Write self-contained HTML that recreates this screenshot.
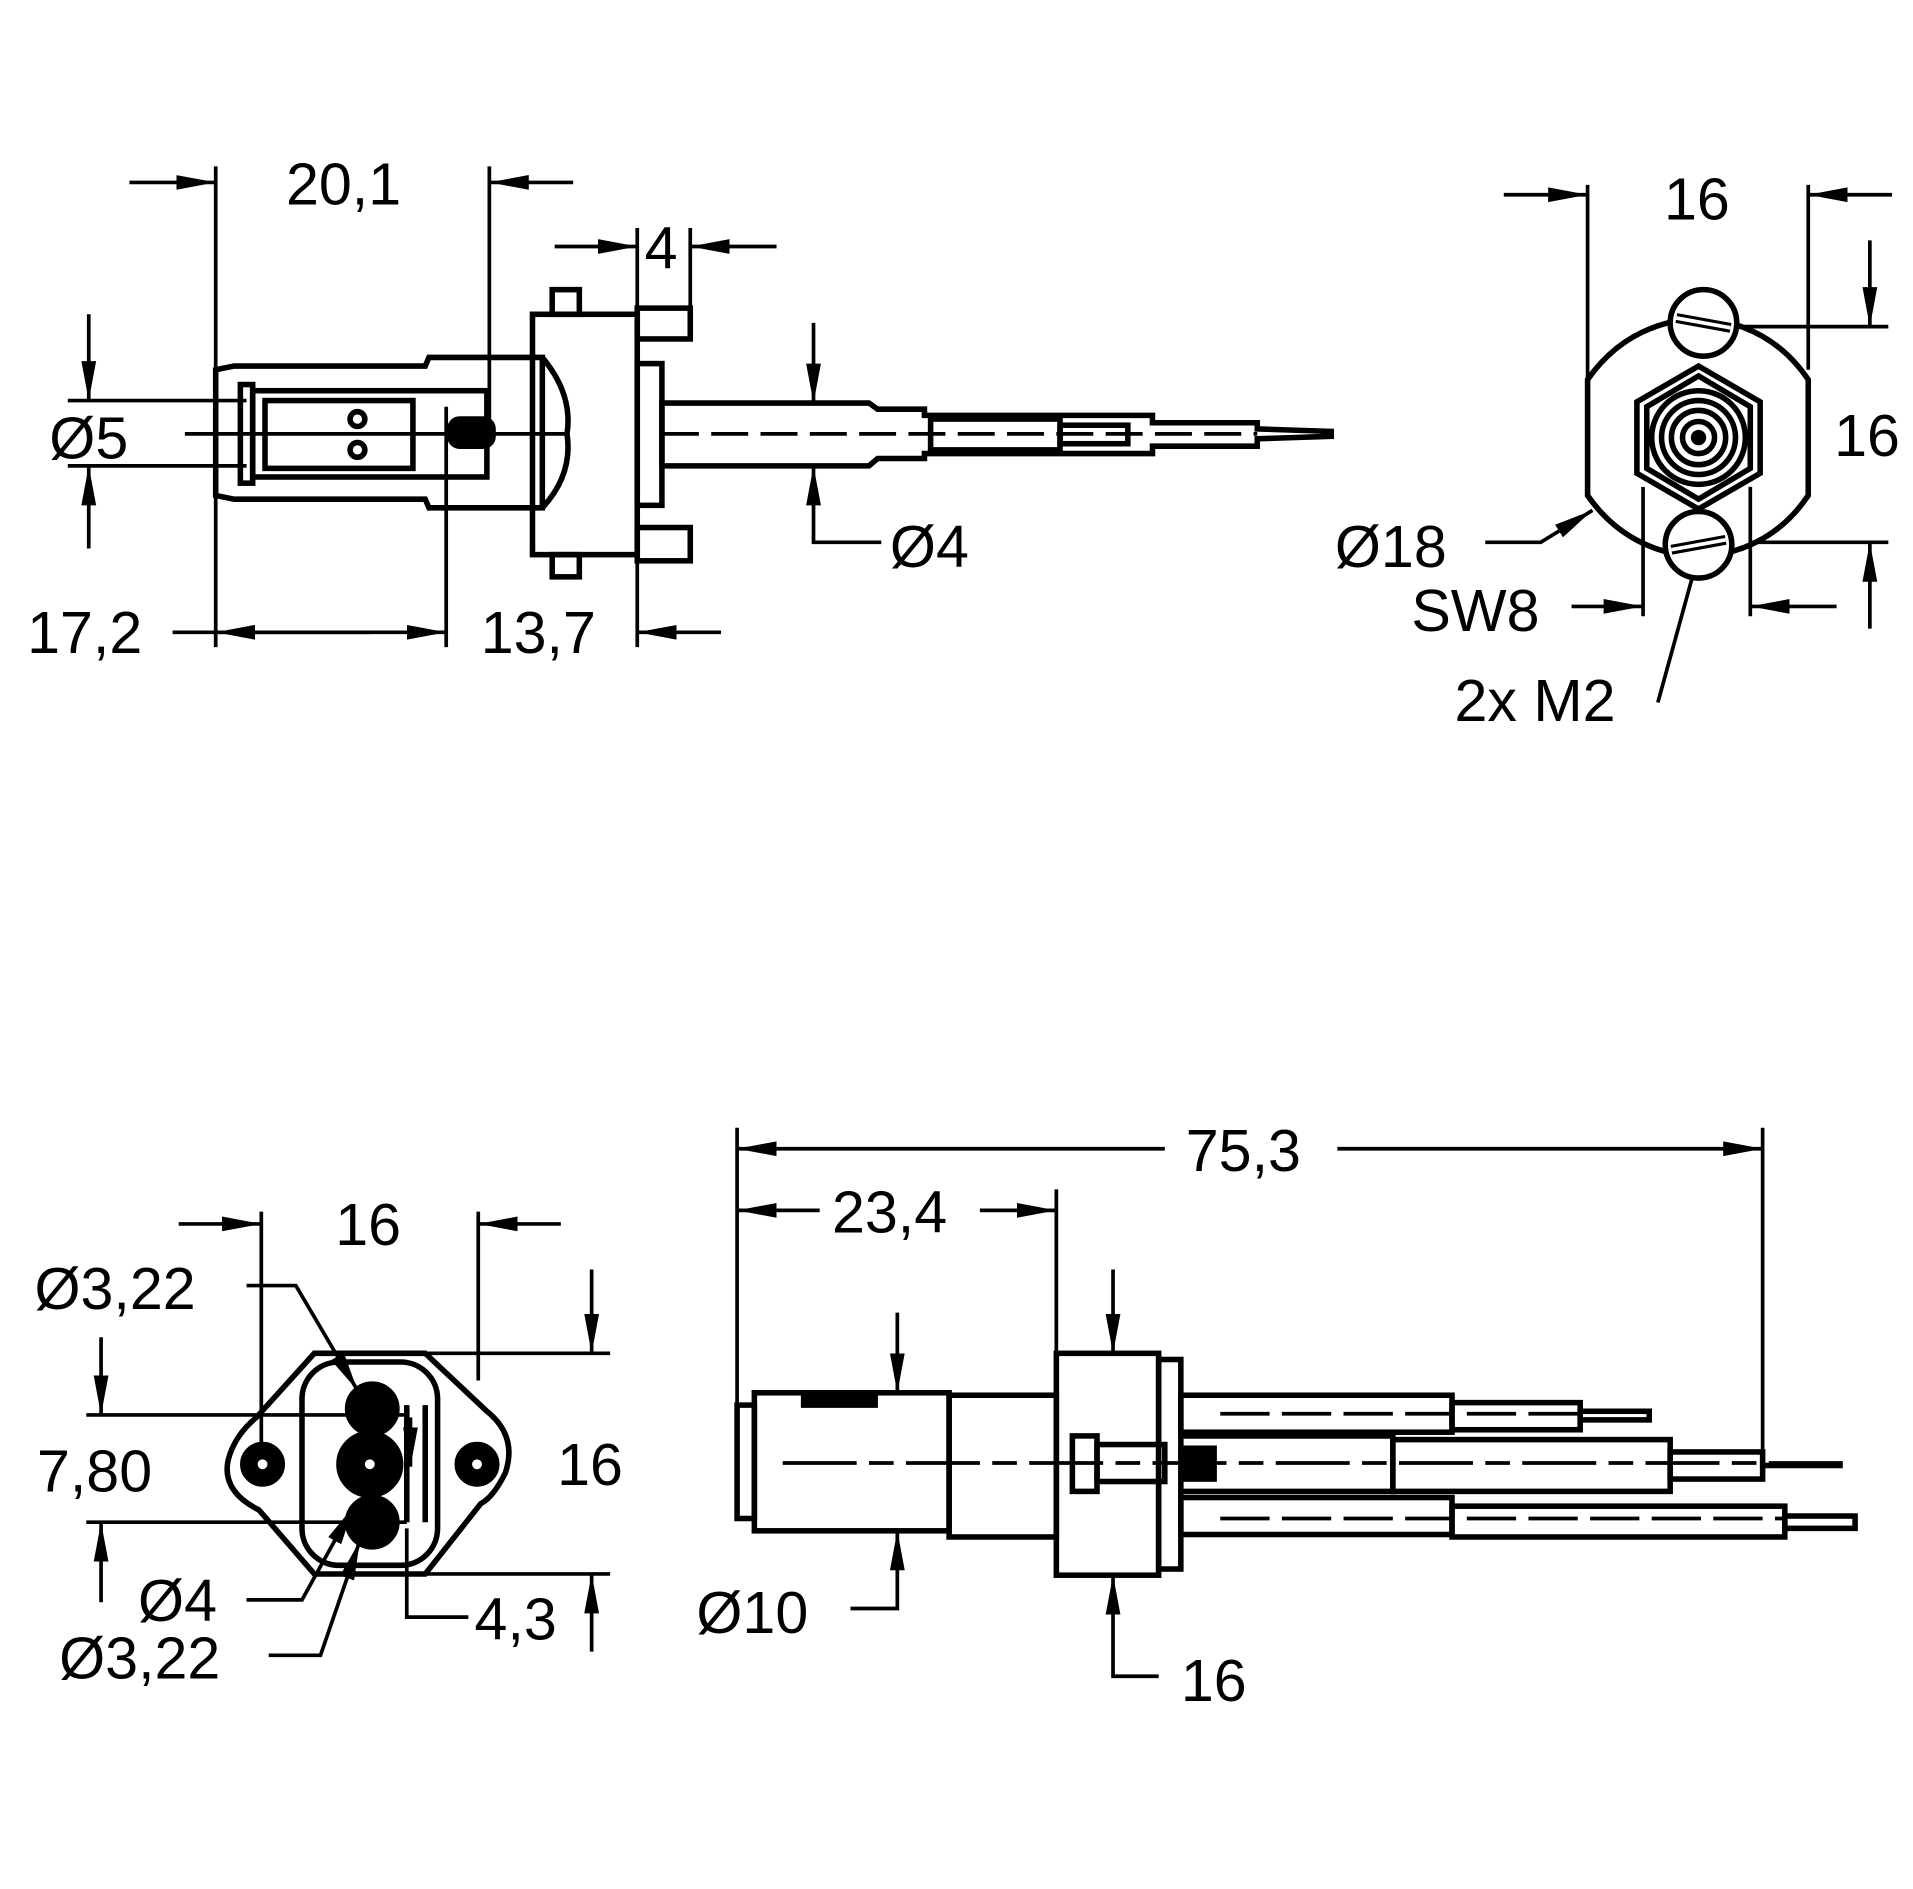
<!DOCTYPE html>
<html><head><meta charset="utf-8"><style>
html,body{margin:0;padding:0;background:#fff;width:1913px;height:1889px;overflow:hidden}
svg{display:block}
text{font-family:"Liberation Sans",sans-serif;font-size:48px;fill:#000}
</style></head><body>
<svg width="1913" height="1889" viewBox="0 0 1552 1532.6" preserveAspectRatio="none" xmlns="http://www.w3.org/2000/svg">
<defs>
<marker id="a" markerUnits="userSpaceOnUse" markerWidth="34" markerHeight="14" refX="32" refY="7" orient="auto"><path d="M0,1 L32,7 L0,13 Z" fill="#000"/></marker>
</defs>
<g stroke="#000" stroke-width="3" fill="none">
<line x1="175" y1="135" x2="175" y2="525"/>
<line x1="397" y1="135" x2="397" y2="345"/>
<line x1="105" y1="148" x2="175" y2="148" marker-end="url(#a)"/>
<line x1="465" y1="148" x2="397" y2="148" marker-end="url(#a)"/>
<line x1="517" y1="185" x2="517" y2="250"/>
<line x1="560" y1="185" x2="560" y2="250"/>
<line x1="450" y1="200" x2="517" y2="200" marker-end="url(#a)"/>
<line x1="630" y1="200" x2="560" y2="200" marker-end="url(#a)"/>
<line x1="55" y1="325" x2="200" y2="325"/>
<line x1="55" y1="378" x2="200" y2="378"/>
<line x1="72" y1="255" x2="72" y2="325" marker-end="url(#a)"/>
<line x1="72" y1="445" x2="72" y2="378" marker-end="url(#a)"/>
<line x1="362" y1="330" x2="362" y2="525"/>
<line x1="517" y1="430" x2="517" y2="525"/>
<line x1="140" y1="513" x2="362" y2="513" marker-end="url(#a)"/>
<line x1="300" y1="513" x2="175" y2="513" marker-end="url(#a)"/>
<line x1="585" y1="513" x2="517" y2="513" marker-end="url(#a)"/>
<line x1="660" y1="262" x2="660" y2="327" marker-end="url(#a)"/>
<polyline points="715,440 660,440 660,378" marker-end="url(#a)"/>
</g>
<g stroke="#000" stroke-width="4.5" fill="none">
<path d="M175,300 L190,297 L345,297 L348,290 L440,290 L440,412 L348,412 L345,405 L190,405 L175,402 Z"/>
<rect x="195" y="312" width="10" height="80"/>
<rect x="205" y="317" width="190" height="70"/>
<rect x="215" y="325" width="120" height="55"/>
<circle cx="290" cy="340" r="6"/><circle cx="290" cy="365" r="6"/>
<rect x="365" y="340" width="35" height="22" rx="8" fill="#000"/>
<path d="M440,290 Q465,320 460,352 Q465,385 440,412"/>
<rect x="432" y="255" width="85" height="195"/>
<rect x="517" y="295" width="20" height="115"/>
<rect x="517" y="250" width="43" height="25"/><rect x="517" y="428" width="43" height="27"/>
<rect x="448" y="235" width="22" height="20"/><rect x="448" y="450" width="22" height="18"/>
<path d="M537,327 L705,327 L712,332 L750,332 L750,337 L935,337 L935,343 L1020,343 L1020,348 L1080,350 L1080,354 L1020,356 L1020,362 L935,362 L935,368 L750,368 L750,372 L712,372 L705,378 L537,378 Z"/>
<rect x="755" y="340" width="105" height="25"/><rect x="860" y="345" width="55" height="15"/>
</g>
<g stroke="#000" stroke-width="3" fill="none">
<line x1="150" y1="352" x2="460" y2="352"/>
<line x1="537" y1="352" x2="1020" y2="352" stroke-dasharray="30,10"/>
<line x1="1288" y1="150" x2="1288" y2="320"/>
<line x1="1467" y1="150" x2="1467" y2="300"/>
<line x1="1220" y1="158" x2="1288" y2="158" marker-end="url(#a)"/>
<line x1="1535" y1="158" x2="1467" y2="158" marker-end="url(#a)"/>
<line x1="1400" y1="265" x2="1532" y2="265"/>
<line x1="1420" y1="440" x2="1532" y2="440"/>
<line x1="1517" y1="195" x2="1517" y2="265" marker-end="url(#a)"/>
<line x1="1517" y1="510" x2="1517" y2="440" marker-end="url(#a)"/>
<line x1="1333" y1="395" x2="1333" y2="500"/>
<line x1="1420" y1="395" x2="1420" y2="500"/>
<line x1="1275" y1="492" x2="1333" y2="492" marker-end="url(#a)"/>
<line x1="1490" y1="492" x2="1420" y2="492" marker-end="url(#a)"/>
<polyline points="1205,440 1250,440 1292,414" marker-end="url(#a)"/>
<line x1="1345" y1="570" x2="1378" y2="450"/>
</g>
<g stroke="#000" stroke-width="4.5" fill="none">
<path d="M1288,308 Q1320,262 1378,258 Q1436,262 1467,308 L1467,402 Q1436,448 1378,452 Q1320,448 1288,402 Z"/>
<polygon points="1378,297 1428,326 1428,384 1378,413 1328,384 1328,326"/>
<polygon points="1378,305 1420,330 1420,380 1378,405 1336,380 1336,330"/>
<circle cx="1378" cy="355" r="38"/><circle cx="1378" cy="355" r="30"/><circle cx="1378" cy="355" r="22"/><circle cx="1378" cy="355" r="13"/><circle cx="1378" cy="355" r="4" fill="#000"/>
<circle cx="1382" cy="262" r="27" fill="#fff"/><line x1="1360" y1="258" x2="1404" y2="266" stroke-width="8"/><line x1="1360" y1="258" x2="1404" y2="266" stroke="#fff" stroke-width="3"/>
<circle cx="1378" cy="442" r="27" fill="#fff"/><line x1="1356" y1="446" x2="1400" y2="438" stroke-width="8"/><line x1="1356" y1="446" x2="1400" y2="438" stroke="#fff" stroke-width="3"/>
</g>
<g stroke="#000" stroke-width="3" fill="none">
<line x1="212" y1="983" x2="212" y2="1180"/>
<line x1="388" y1="983" x2="388" y2="1120"/>
<line x1="145" y1="993" x2="212" y2="993" marker-end="url(#a)"/>
<line x1="455" y1="993" x2="388" y2="993" marker-end="url(#a)"/>
<line x1="340" y1="1098" x2="495" y2="1098"/>
<line x1="340" y1="1277" x2="495" y2="1277"/>
<line x1="480" y1="1030" x2="480" y2="1098" marker-end="url(#a)"/>
<line x1="480" y1="1340" x2="480" y2="1277" marker-end="url(#a)"/>
<line x1="70" y1="1148" x2="330" y2="1148"/>
<line x1="70" y1="1235" x2="330" y2="1235"/>
<line x1="82" y1="1085" x2="82" y2="1148" marker-end="url(#a)"/>
<line x1="82" y1="1300" x2="82" y2="1235" marker-end="url(#a)"/>
<line x1="333" y1="1150" x2="333" y2="1190" marker-end="url(#a)"/>
<polyline points="200,1043 240,1043 290,1128" marker-end="url(#a)"/>
<polyline points="200,1298 245,1298 287,1222" marker-end="url(#a)"/>
<polyline points="218,1343 260,1343 292,1250" marker-end="url(#a)"/>
<polyline points="330,1240 330,1312 380,1312"/>
</g>
<g stroke="#000" stroke-width="4.5" fill="none">
<path d="M255,1098 L345,1098 L395,1145 Q420,1165 410,1195 Q400,1215 390,1220 L345,1277 L255,1277 L210,1225 Q180,1210 185,1185 Q190,1165 208,1150 Z"/>
<rect x="245" y="1105" width="110" height="165" rx="30"/>
<circle cx="213" cy="1188" r="16" fill="#000"/>
<circle cx="387" cy="1188" r="16" fill="#000"/>
<circle cx="302" cy="1143" r="20" fill="#000"/>
<circle cx="300" cy="1188" r="25" fill="#000"/>
<circle cx="302" cy="1235" r="20" fill="#000"/>
<line x1="330" y1="1140" x2="330" y2="1235"/><line x1="345" y1="1140" x2="345" y2="1235"/>
</g>
<g fill="#fff"><circle cx="213" cy="1188" r="4"/><circle cx="387" cy="1188" r="4"/><circle cx="300" cy="1188" r="4"/></g>
<g stroke="#000" stroke-width="3" fill="none">
<line x1="598" y1="915" x2="598" y2="1140"/>
<line x1="1430" y1="915" x2="1430" y2="1185"/>
<line x1="857" y1="965" x2="857" y2="1100"/>
<line x1="945" y1="932" x2="598" y2="932" marker-end="url(#a)"/>
<line x1="1085" y1="932" x2="1430" y2="932" marker-end="url(#a)"/>
<line x1="665" y1="982" x2="598" y2="982" marker-end="url(#a)"/>
<line x1="795" y1="982" x2="857" y2="982" marker-end="url(#a)"/>
<line x1="728" y1="1065" x2="728" y2="1130" marker-end="url(#a)"/>
<polyline points="690,1305 728,1305 728,1242" marker-end="url(#a)"/>
<line x1="903" y1="1030" x2="903" y2="1098" marker-end="url(#a)"/>
<polyline points="940,1360 903,1360 903,1278" marker-end="url(#a)"/>
<line x1="635" y1="1187" x2="1495" y2="1187" stroke-dasharray="60,10,20,10"/>
<line x1="990" y1="1147" x2="1282" y2="1147" stroke-dasharray="40,10"/>
<line x1="990" y1="1232" x2="1448" y2="1232" stroke-dasharray="40,10"/>
</g>
<g stroke="#000" stroke-width="4.5" fill="none">
<rect x="598" y="1140" width="14" height="92"/>
<rect x="612" y="1130" width="158" height="112"/>
<rect x="652" y="1132" width="58" height="8" fill="#000"/>
<rect x="770" y="1132" width="87" height="115"/>
<rect x="857" y="1098" width="83" height="180"/>
<rect x="940" y="1103" width="18" height="170"/>
<rect x="870" y="1165" width="20" height="45"/>
<rect x="890" y="1172" width="55" height="30"/>
<rect x="960" y="1175" width="25" height="25" fill="#000"/>
<rect x="958" y="1132" width="220" height="30"/><rect x="1178" y="1138" width="104" height="22"/><rect x="1282" y="1145" width="56" height="7"/>
<path d="M958,1165 L1130,1165 L1130,1210 L958,1210"/>
<rect x="1130" y="1168" width="225" height="42"/><rect x="1355" y="1178" width="75" height="22"/>
<line x1="1430" y1="1189" x2="1495" y2="1189"/>
<rect x="958" y="1215" width="220" height="30"/><rect x="1178" y="1222" width="270" height="25"/><rect x="1448" y="1230" width="57" height="10"/>
</g>
<text x="232" y="166">20,1</text>
<text x="523" y="218">4</text>
<text x="40" y="372">Ø5</text>
<text x="22" y="530">17,2</text>
<text x="390" y="530">13,7</text>
<text x="722" y="460">Ø4</text>
<text x="1350" y="178">16</text>
<text x="1488" y="370">16</text>
<text x="1083" y="460">Ø18</text>
<text x="1145" y="512">SW8</text>
<text x="1180" y="585">2x M2</text>
<text x="272" y="1010">16</text>
<text x="452" y="1205">16</text>
<text x="28" y="1062">Ø3,22</text>
<text x="30" y="1210">7,80</text>
<text x="112" y="1315">Ø4</text>
<text x="48" y="1362">Ø3,22</text>
<text x="385" y="1330">4,3</text>
<text x="962" y="950">75,3</text>
<text x="675" y="1000">23,4</text>
<text x="565" y="1325">Ø10</text>
<text x="958" y="1380">16</text>
</svg>
</body></html>
